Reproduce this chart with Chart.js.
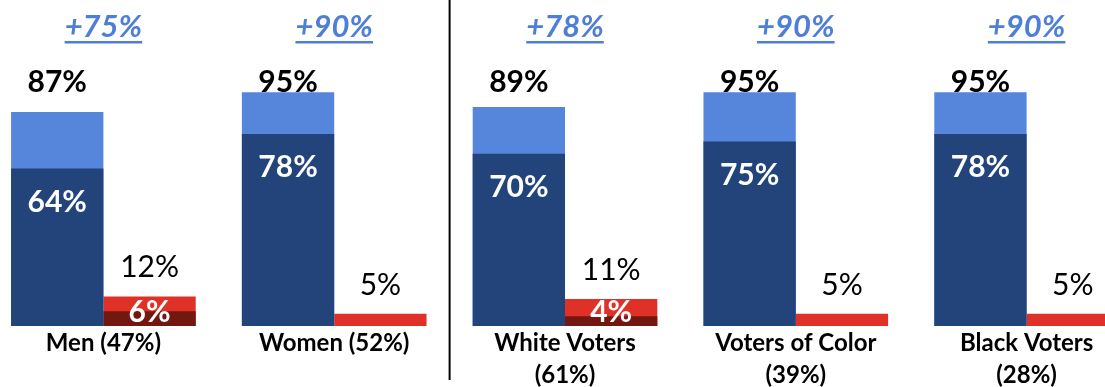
<!DOCTYPE html>
<html>
<head>
<meta charset="utf-8">
<script src="https://cdn.jsdelivr.net/npm/chart.js@4"></script>
<style>
  html, body { margin: 0; padding: 0; background: #fff; overflow: hidden; }
  #wrap { position: absolute; left: -12px; top: 0; width: 1154px; height: 387px; }
</style>
</head>
<body>
<div id="wrap"><canvas id="bars"></canvas></div>
<script>
// Groups and their vote shares (percent)
const groupLabels = [
  ['Men (47%)'],
  ['Women (52%)'],
  ['White Voters', '(61%)'],
  ['Voters of Color', '(39%)'],
  ['Black Voters', '(28%)']
];
const demTotal = [87, 95, 89, 95, 95];
const demStrong = [64, 78, 70, 75, 78];
const repTotal = [12, 5, 11, 5, 5];
const repStrong = [6, null, 4, null, null];

const NAVY = '#23447A';
const LIGHT_BLUE = '#5586DC';
const RED = '#DF3127';
const DARK_RED = '#731811';
const MARGIN_BLUE = '#4E7FD8';
const FONT = 'Lato, "Noto Sans", sans-serif';

// text labels, margin headers and the divider line
const labelPlugin = {
  id: 'barText',
  afterDatasetsDraw(chart) {
    const ctx = chart.ctx;
    const x = chart.scales.x;
    const sD = chart.getDatasetMeta(0).data;
    const tD = chart.getDatasetMeta(2).data;
    const tR = chart.getDatasetMeta(3).data;
    const top = chart.chartArea.top;
    const bottom = chart.chartArea.bottom;

    ctx.save();
    ctx.textAlign = 'center';
    ctx.textBaseline = 'alphabetic';

    for (let i = 0; i < groupLabels.length; i++) {
      const cx = x.getPixelForValue(i);

      // margin header, underlined
      const margin = '+' + (demTotal[i] - repTotal[i]) + '%';
      ctx.font = 'italic bold 31px ' + FONT;
      ctx.fillStyle = MARGIN_BLUE;
      ctx.fillText(margin, cx, top - 43);
      const w = ctx.measureText(margin).width;
      ctx.fillRect(cx - w / 2, top - 39, w, 2.5);

      // dem total above the bar
      ctx.font = 'bold 30px ' + FONT;
      ctx.fillStyle = '#000';
      ctx.fillText(demTotal[i] + '%', tD[i].x, top + 12);

      // strong dem inside navy bar
      ctx.fillStyle = '#fff';
      ctx.fillText(demStrong[i] + '%', sD[i].x, sD[i].y + 43);

      // rep total above red bar
      ctx.font = '30px ' + FONT;
      ctx.fillStyle = '#000';
      ctx.fillText(repTotal[i] + '%', tR[i].x, tR[i].y - 19);

      // strong rep inside red bar
      if (repStrong[i] != null) {
        ctx.font = 'bold 30px ' + FONT;
        ctx.fillStyle = '#fff';
        ctx.fillText(repStrong[i] + '%', tR[i].x, tR[i].base - 4);
      }

      // group name under the axis
      ctx.font = 'bold 24px ' + FONT;
      ctx.fillStyle = '#000';
      groupLabels[i].forEach((line, k) => {
        ctx.fillText(line, cx, bottom + 25 + k * 32);
      });
    }

    // divider between gender and race groups
    const dx = (x.getPixelForValue(1) + x.getPixelForValue(2)) / 2;
    ctx.fillStyle = '#000';
    ctx.fillRect(dx - 1, 0, 2, 380);
    ctx.restore();
  }
};

new Chart(document.getElementById('bars'), {
  type: 'bar',
  data: {
    labels: groupLabels.map(l => l.join(' ')),
    datasets: [
      { label: 'Strong Dem', data: demStrong, stack: 'dem', backgroundColor: NAVY },
      { label: 'Strong Rep', data: repStrong, stack: 'rep', backgroundColor: DARK_RED },
      { label: 'Dem', data: demTotal, stack: 'dem', backgroundColor: LIGHT_BLUE },
      { label: 'Rep', data: repTotal, stack: 'rep', backgroundColor: RED }
    ]
  },
  options: {
    responsive: true,
    maintainAspectRatio: false,
    animation: false,
    barPercentage: 1,
    categoryPercentage: 0.8,
    layout: { padding: { top: 80, bottom: 61, left: 0, right: 0 } },
    plugins: {
      legend: { display: false },
      tooltip: { enabled: false }
    },
    scales: {
      x: { display: false },
      y: { display: false, stacked: false, min: 0, max: 100 }
    }
  },
  plugins: [labelPlugin]
});
</script>
</body>
</html>
